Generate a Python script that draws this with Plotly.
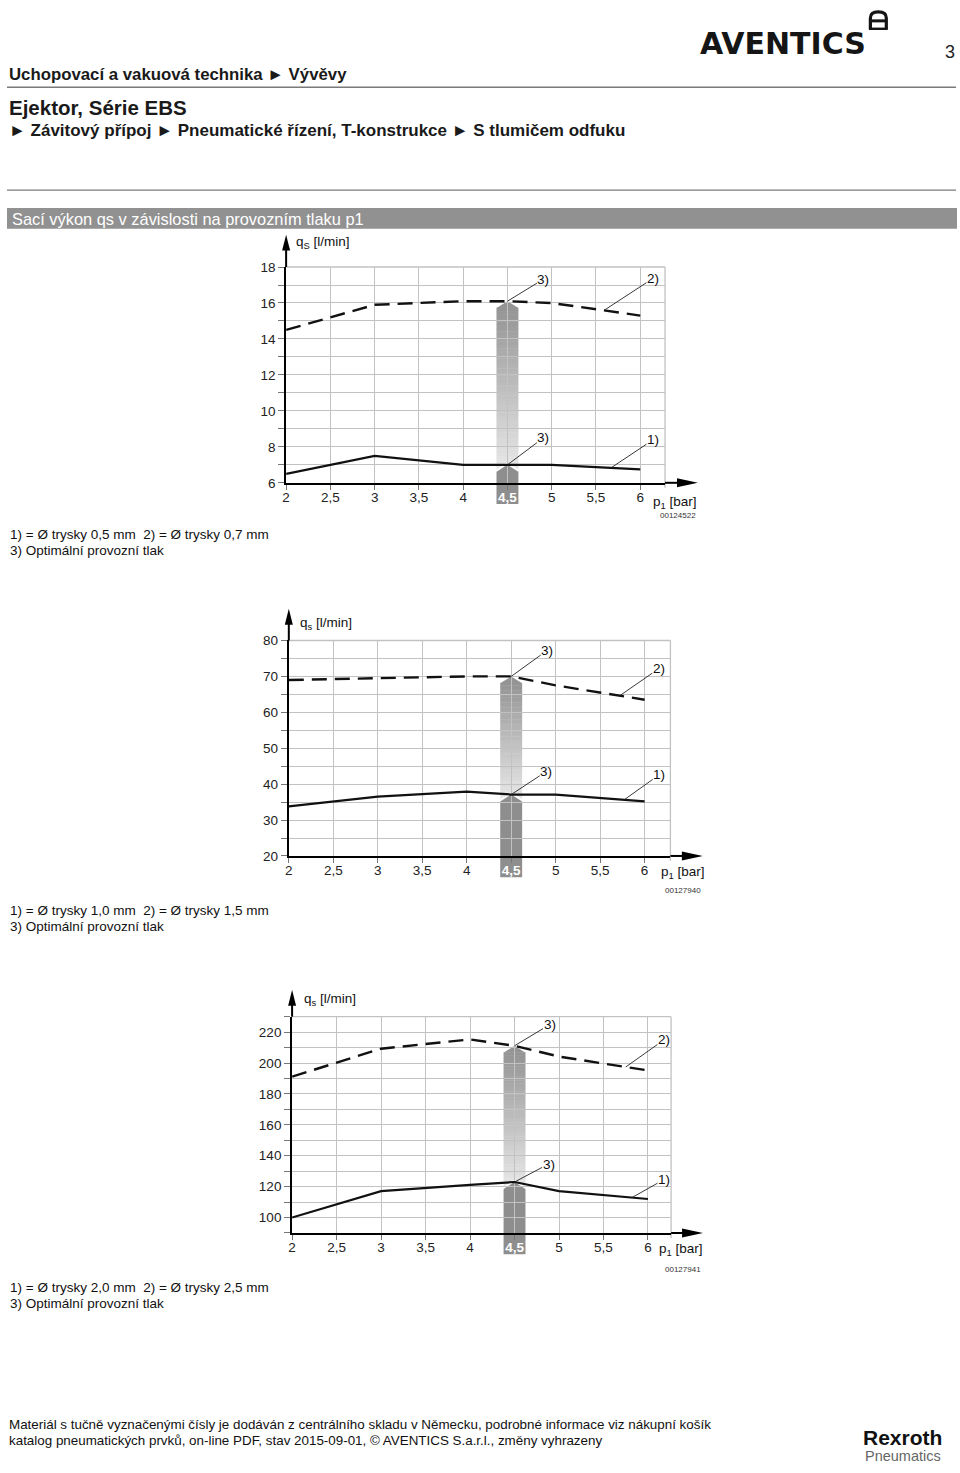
import numpy as np
import plotly.graph_objects as go

PAGE_W, PAGE_H = 960, 1473
FONT = "Liberation Sans, Arial, sans-serif"

# ---------------- data ----------------
p_vals = [2, 3, 4, 4.5, 5, 6]
x_tickvals = [2, 2.5, 3, 3.5, 4, 4.5, 5, 5.5, 6]
x_ticktext = ["2", "2,5", "3", "3,5", "4", "4,5", "5", "5,5", "6"]
optimal_p = 4.5

c1_dashed = [14.5, 15.9, 16.1, 16.1, 16.0, 15.3]
c1_solid = [6.5, 7.5, 7.0, 7.0, 7.0, 6.75]
c1_yticks = [6, 8, 10, 12, 14, 16, 18]

c2_dashed = [69.0, 69.5, 70.0, 70.0, 67.5, 63.5]
c2_solid = [33.8, 36.5, 37.9, 37.1, 37.1, 35.2]
c2_yticks = [20, 30, 40, 50, 60, 70, 80]

c3_dashed = [191.2, 209.3, 215.3, 211.2, 204.2, 195.2]
c3_solid = [100.0, 117.1, 121.1, 123.0, 117.1, 112.0]
c3_yticks = [100, 120, 140, 160, 180, 200, 220]

notes1 = ["1) = Ø trysky 0,5 mm  2) = Ø trysky 0,7 mm", "3) Optimální provozní tlak"]
notes2 = ["1) = Ø trysky 1,0 mm  2) = Ø trysky 1,5 mm", "3) Optimální provozní tlak"]
notes3 = ["1) = Ø trysky 2,0 mm  2) = Ø trysky 2,5 mm", "3) Optimální provozní tlak"]
ids = ["00124522", "00127940", "00127941"]

# ---------------- layout of the three charts (page pixels) ----------------
charts = [
    dict(dashed=c1_dashed, solid=c1_solid, yticks=c1_yticks, minor=1,
         xr=[2, 6.28], yr=[6, 18], xpx=[283.3, 663.8], ypx=[480.7, 262.7],
         ytip=32.7, xtip=33, qs="q<sub>S</sub> [l/min]", qs_pos=(291, 238),
         p_pos=(650, 501), id_pos=(697, 514), notes=notes1, notes_y=(533, 549),
         lab=dict(d3=(36, -22), d2=(5.59, 49, -32), s3=(36, -27), s1=(5.67, 42, -28))),
    dict(dashed=c2_dashed, solid=c2_solid, yticks=c2_yticks, minor=5,
         xr=[2, 6.29], yr=[20, 80], xpx=[286.0, 669.2], ypx=[857.7, 640.0],
         ytip=32, xtip=32.5, qs="q<sub>s</sub> [l/min]", qs_pos=(295, 623),
         p_pos=(658, 874), id_pos=(702, 893), notes=notes2, notes_y=(913, 929),
         lab=dict(d3=(36, -26), d2=(5.72, 39, -27), s3=(35, -23), s1=(5.77, 35, -25))),
    dict(dashed=c3_dashed, solid=c3_solid, yticks=c3_yticks, minor=10,
         xr=[2, 6.26], yr=[90, 230], xpx=[289.3, 669.9], ypx=[1238.6, 1020.1],
         ytip=27, xtip=32, qs="q<sub>s</sub> [l/min]", qs_pos=(299, 1003),
         p_pos=(656, 1255), id_pos=(702, 1275), notes=notes3, notes_y=(1294, 1310),
         lab=dict(d3=(35, -21), d2=(5.75, 38, -27), s3=(34, -18), s1=(5.82, 32, -18))),
]

GRID = "#c2c2c2"
fig = go.Figure()
shapes = []
annotations = []


def py(p):
    return 1 - p / PAGE_H


def px_(p):
    return p / PAGE_W


def hexgray(v):
    v = int(round(v))
    return "#%02x%02x%02x" % (v, v, v)


for i, c in enumerate(charts):
    n = "" if i == 0 else str(i + 1)
    xa, ya = "x" + n, "y" + n
    xdom = [px_(c["xpx"][0]), px_(c["xpx"][1])]
    ydom = [py(c["ypx"][0]), py(c["ypx"][1])]
    Wd = c["xpx"][1] - c["xpx"][0]
    Hd = c["ypx"][0] - c["ypx"][1]
    xr, yr = c["xr"], c["yr"]

    def fx(v, xr=xr):
        return (v - xr[0]) / (xr[1] - xr[0])

    def fy(v, yr=yr):
        return (v - yr[0]) / (yr[1] - yr[0])

    fig.add_trace(go.Scatter(x=p_vals, y=c["dashed"], mode="lines", xaxis=xa, yaxis=ya,
                             line=dict(color="#111111", width=2.4, dash="15px,8px"),
                             showlegend=False, hoverinfo="skip"))
    fig.add_trace(go.Scatter(x=p_vals, y=c["solid"], mode="lines", xaxis=xa, yaxis=ya,
                             line=dict(color="#111111", width=2.2),
                             showlegend=False, hoverinfo="skip"))

    ticktext = [("<b><span style='color:#ffffff'>%s</span></b>" % t) if v == optimal_p else t
                for v, t in zip(x_tickvals, x_ticktext)]
    fig.layout["xaxis" + n] = dict(
        domain=xdom, range=xr, anchor=ya, tickmode="array", tickvals=x_tickvals,
        ticktext=ticktext, showgrid=True, gridcolor=GRID, gridwidth=1.3,
        ticks="outside", ticklen=5, tickcolor="#777777", showline=True,
        linecolor="#000000", linewidth=2, zeroline=False, ticklabelstandoff=-4,
        tickfont=dict(family=FONT, size=13.5, color="#222222"), fixedrange=True)
    fig.layout["yaxis" + n] = dict(
        domain=ydom, range=yr, anchor=xa, tickmode="array", tickvals=c["yticks"],
        showgrid=True, gridcolor=GRID, gridwidth=1.3, ticks="outside", ticklen=6,
        tickcolor="#777777", showline=True, linecolor="#000000", linewidth=2,
        zeroline=False, tickfont=dict(family=FONT, size=13.5, color="#222222"),
        minor=dict(dtick=c["minor"], tick0=0, showgrid=True, gridcolor=GRID,
                   gridwidth=1.3, ticks="outside", ticklen=6, tickcolor="#777777"),
        fixedrange=True)

    xd_ref, yd_ref = xa + " domain", ya + " domain"

    # right and top border of grid, extra tick at right border
    shapes.append(dict(type="line", xref=xd_ref, yref=yd_ref, x0=1, x1=1, y0=-5 / Hd, y1=1,
                       line=dict(color=GRID, width=1.3), layer="below"))
    shapes.append(dict(type="line", xref=xd_ref, yref=yd_ref, x0=0, x1=1, y0=1, y1=1,
                       line=dict(color=GRID, width=1.3), layer="below"))

    # optimal pressure arrow (gray)
    xc = fx(optimal_p)
    hw = 11 / Wd
    tip = 7 / Hd
    v_low = float(np.interp(optimal_p, p_vals, c["solid"]))
    v_up = float(np.interp(optimal_p, p_vals, c["dashed"]))
    y_bot = -21.5 / Hd
    yt_low = fy(v_low)
    ys_low = yt_low - tip
    yt_up = fy(v_up)
    ys_up = yt_up - tip
    gap = 1.8 / Hd
    nb = 48
    y_start = ys_low + gap
    top_c, bot_c = 148, 232
    for k in range(nb):
        a0 = y_start + (ys_up - y_start) * k / nb
        a1 = y_start + (ys_up - y_start) * (k + 1) / nb
        t = (k + 0.5) / nb
        col = hexgray(bot_c + (top_c - bot_c) * t)
        shapes.append(dict(type="rect", xref=xd_ref, yref=yd_ref, x0=xc - hw, x1=xc + hw,
                           y0=a0, y1=a1 + 0.4 / Hd, fillcolor=col, line=dict(width=0),
                           layer="below"))
    shapes.append(dict(type="path", xref=xd_ref, yref=yd_ref,
                       path=f"M {xc - hw},{ys_up} L {xc},{yt_up} L {xc + hw},{ys_up} Z",
                       fillcolor=hexgray(top_c), line=dict(width=0), layer="below"))
    # white notch
    shapes.append(dict(type="path", xref=xd_ref, yref=yd_ref,
                       path=f"M {xc - hw - 0.002},{y_start} L {xc},{yt_low + gap * 1.4} "
                            f"L {xc + hw + 0.002},{y_start} Z",
                       fillcolor="#ffffff", line=dict(width=0), layer="below"))
    # lower dark arrow
    shapes.append(dict(type="path", xref=xd_ref, yref=yd_ref,
                       path=f"M {xc - hw},{y_bot} L {xc - hw},{ys_low} L {xc},{yt_low} "
                            f"L {xc + hw},{ys_low} L {xc + hw},{y_bot} Z",
                       fillcolor="#8e8e8e", line=dict(width=0), layer="below"))

    # axis extensions with arrow heads
    ye = c["ytip"]
    shapes.append(dict(type="line", xref=xd_ref, yref=yd_ref, x0=0, x1=0, y0=1,
                       y1=1 + (ye - 14) / Hd, line=dict(color="#000000", width=2)))
    shapes.append(dict(type="path", xref=xd_ref, yref=yd_ref,
                       path=f"M {-4 / Wd},{1 + (ye - 16) / Hd} L 0,{1 + ye / Hd} "
                            f"L {4 / Wd},{1 + (ye - 16) / Hd} Z",
                       fillcolor="#000000", line=dict(width=0)))
    xe = c["xtip"]
    shapes.append(dict(type="line", xref=xd_ref, yref=yd_ref, x0=1, x1=1 + (xe - 18) / Wd,
                       y0=0, y1=0, line=dict(color="#000000", width=2)))
    shapes.append(dict(type="path", xref=xd_ref, yref=yd_ref,
                       path=f"M {1 + (xe - 21) / Wd},{-4.5 / Hd} L {1 + xe / Wd},0 "
                            f"L {1 + (xe - 21) / Wd},{4.5 / Hd} Z",
                       fillcolor="#000000", line=dict(width=0)))

    # leader labels
    lab = c["lab"]
    leader = [
        (optimal_p, v_up, "3)", lab["d3"][0], lab["d3"][1]),
        (lab["d2"][0], float(np.interp(lab["d2"][0], p_vals, c["dashed"])), "2)",
         lab["d2"][1], lab["d2"][2]),
        (optimal_p, v_low, "3)", lab["s3"][0], lab["s3"][1]),
        (lab["s1"][0], float(np.interp(lab["s1"][0], p_vals, c["solid"])), "1)",
         lab["s1"][1], lab["s1"][2]),
    ]
    for (lx, ly, txt, ax, ay) in leader:
        annotations.append(dict(xref=xa, yref=ya, x=lx, y=ly, text=txt, showarrow=True,
                                arrowhead=0, arrowwidth=0.9, arrowcolor="#222222",
                                ax=ax, ay=ay, standoff=0, borderpad=0,
                                font=dict(family=FONT, size=13.5, color="#111111")))

    # axis titles & id
    annotations.append(dict(xref="paper", yref="paper", x=px_(c["qs_pos"][0]),
                            y=py(c["qs_pos"][1]), text=c["qs"], showarrow=False,
                            xanchor="left", yanchor="middle",
                            font=dict(family=FONT, size=13.5, color="#111111")))
    annotations.append(dict(xref="paper", yref="paper", x=px_(c["p_pos"][0]),
                            y=py(c["p_pos"][1]), text="p<sub>1</sub> [bar]", showarrow=False,
                            xanchor="left", yanchor="middle",
                            font=dict(family=FONT, size=13.5, color="#111111")))
    annotations.append(dict(xref="paper", yref="paper", x=px_(c["id_pos"][0]),
                            y=py(c["id_pos"][1]), text=ids[i], showarrow=False,
                            xanchor="right", yanchor="middle",
                            font=dict(family=FONT, size=8, color="#333333")))
    for j, note in enumerate(c["notes"]):
        annotations.append(dict(xref="paper", yref="paper", x=px_(4),
                                y=py(c["notes_y"][j]), text=note, showarrow=False,
                                xanchor="left", yanchor="middle",
                                font=dict(family=FONT, size=13.5, color="#111111")))

# ---------------- page header / footer ----------------
def page_text(x, y, text, size, color="#111111", anchor="left", family=FONT, yanchor="middle"):
    annotations.append(dict(xref="paper", yref="paper", x=px_(x), y=py(y), text=text,
                            showarrow=False, xanchor=anchor, yanchor=yanchor, borderpad=0,
                            font=dict(family=family, size=size, color=color)))


page_text(4, 68, "<b>Uchopovací a vakuová technika ► Vývěvy</b>", 16.8, "#1a1a1a")
page_text(4, 102, "<b>Ejektor, Série EBS</b>", 20.5, "#1a1a1a")
page_text(4, 125, "<b>► Závitový přípoj ► Pneumatické řízení, T-konstrukce ► S tlumičem odfuku</b>",
          17, "#1a1a1a")
page_text(956, 45, "3", 18, "#222222", anchor="right")
page_text(698, 37, "<b>AVENTICS</b>", 30, "#151515", family="DejaVu Sans, sans-serif")
page_text(7, 214, "Sací výkon qs v závislosti na provozním tlaku p1", 16.4, "#ffffff")
page_text(4, 1432, "Materiál s tučně vyznačenými čísly je dodáván z centrálního skladu v Německu, "
                   "podrobné informace viz nákupní košík", 13.4, "#111111")
page_text(4, 1448, "katalog pneumatických prvků, on-line PDF, stav 2015-09-01, © AVENTICS S.a.r.l., "
                   "změny vyhrazeny", 13.4, "#111111")
page_text(943, 1445, "<b>Rexroth</b>", 21, "#111111", anchor="right")
page_text(942, 1473, "Pneumatics", 14.5, "#666666", anchor="right", yanchor="bottom")

# header rules and gray bar
shapes.append(dict(type="line", xref="paper", yref="paper", x0=px_(3), x1=px_(956),
                   y0=py(81), y1=py(81), line=dict(color="#7a7a7a", width=1.4)))
shapes.append(dict(type="line", xref="paper", yref="paper", x0=px_(3), x1=px_(956),
                   y0=py(185), y1=py(185), line=dict(color="#7a7a7a", width=1.4)))
shapes.append(dict(type="rect", xref="paper", yref="paper", x0=px_(3), x1=px_(957),
                   y0=py(224), y1=py(203), fillcolor="#919191", line=dict(width=0),
                   layer="below"))
# logo mark (small "A" ring)
shapes.append(dict(type="path", xref="paper", yref="paper",
                   path=f"M {px_(870)},{py(22)} L {px_(870)},{py(11)} "
                        f"Q {px_(870)},{py(5)} {px_(878)},{py(5)} "
                        f"Q {px_(886)},{py(5)} {px_(886)},{py(11)} L {px_(886)},{py(22)}",
                   line=dict(color="#151515", width=3.2)))
shapes.append(dict(type="line", xref="paper", yref="paper", x0=px_(871), x1=px_(885),
                   y0=py(14), y1=py(14), line=dict(color="#151515", width=3)))
shapes.append(dict(type="line", xref="paper", yref="paper", x0=px_(868.5), x1=px_(887.5),
                   y0=py(22), y1=py(22), line=dict(color="#151515", width=2.4)))

fig.update_layout(
    width=PAGE_W, height=PAGE_H, autosize=False,
    margin=dict(l=0, r=0, t=0, b=0, pad=0),
    paper_bgcolor="#ffffff", plot_bgcolor="rgba(0,0,0,0)",
    shapes=shapes, annotations=annotations, showlegend=False,
    font=dict(family=FONT, size=13, color="#111111"),
)

fig.write_html("out.html")
